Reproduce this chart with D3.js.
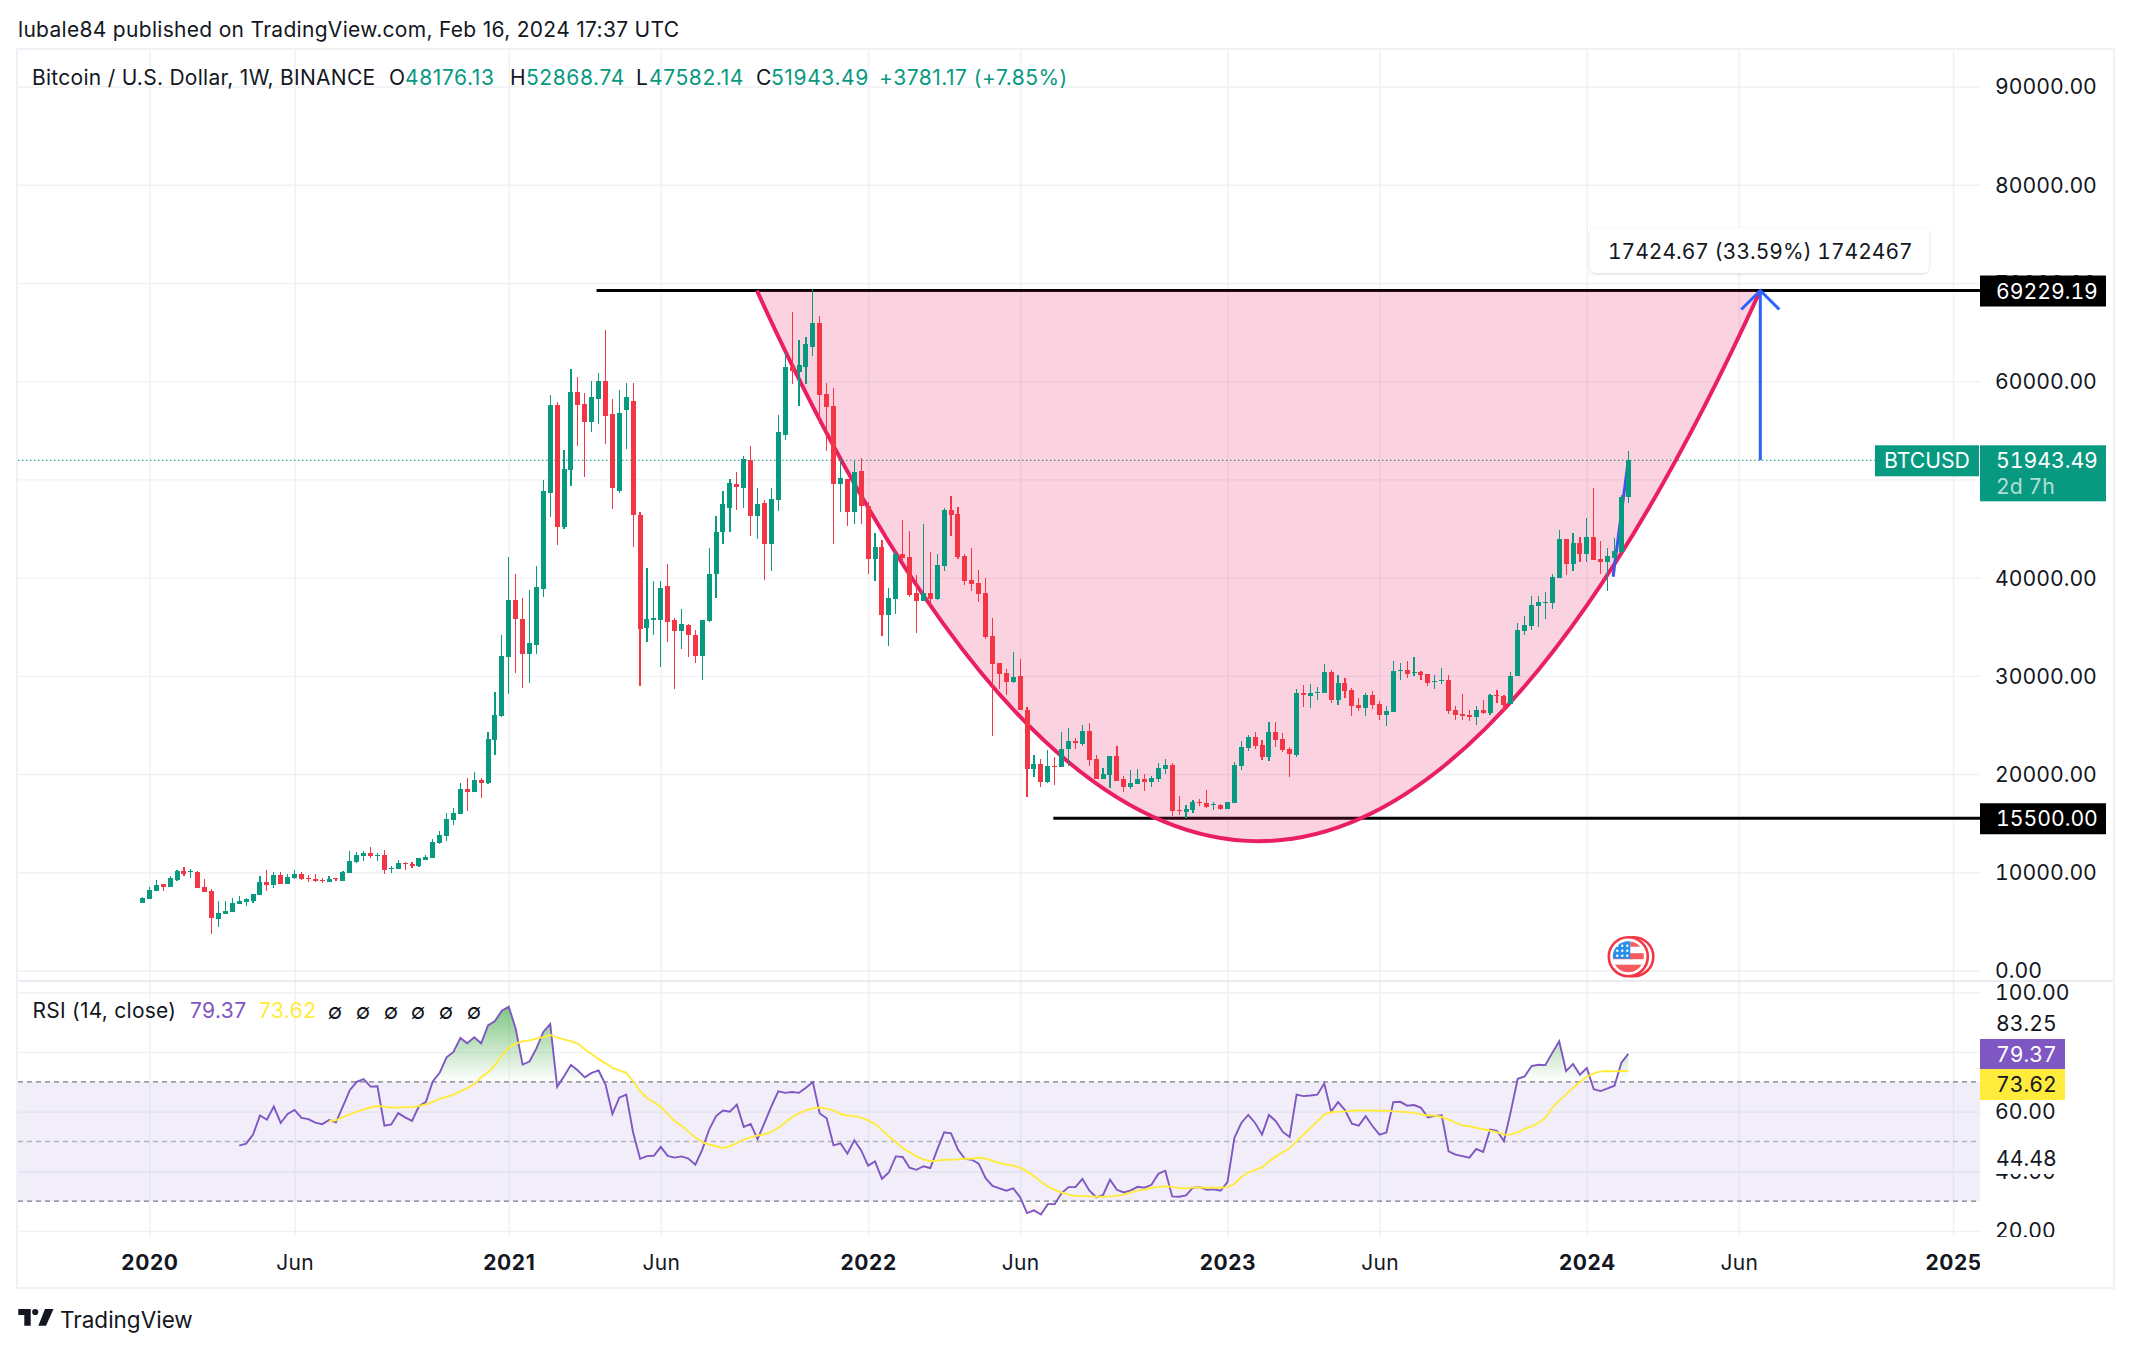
<!DOCTYPE html>
<html>
<head>
<meta charset="utf-8">
<title>BTCUSD 1W</title>
<script src="https://cdn.jsdelivr.net/npm/d3@7"></script>
<style>
  html, body { margin: 0; padding: 0; background: #fff; }
  svg { display: block; }
  text { font-family: Inter, "Noto Sans", sans-serif; }
  .tabular text, text.tabular { font-variant-numeric: tabular-nums; }
</style>
</head>
<body>
<div id="chart"></div>
<script>
// Weekly candles, one entry per bar
var opens = [
  6870,7300,8112,8756,8498,9185,10129,10000,10043,8498,
  8112,5238,5753,5967,6782,6997,7083,7683,9013,8713,
  9743,8842,9442,9828,9442,9314,9228,9013,9442,9142,
  9957,11030,11673,11973,11716,11759,10343,10343,10944,10858,
  10644,11287,11459,13003,13732,15363,15963,18494,18194,19438,
  19138,23514,25959,31965,37756,35826,32265,33166,38872,48653,
  57533,45135,50927,58863,57662,55817,58134,59978,56633,48868,
  57018,57962,46336,34890,35705,35705,39187,35705,34594,35186,
  34186,32038,35594,40409,44669,47113,49558,49076,52002,46298,
  47632,43409,47928,54558,61485,60892,61485,63522,65966,58744,
  57522,49484,50077,46632,50891,47336,41928,43150,36224,37853,
  42446,42113,38446,37631,38446,37853,41224,46928,46520,42224,
  39779,39483,38446,34075,31334,30297,29408,30001,26556,20519,
  21037,19222,20852,20741,22556,23371,23094,24420,21564,19524,
  19932,21870,19524,18708,19014,19524,19218,19524,20544,20952,
  16362,16158,16362,17178,17076,16838,16872,16464,17076,20850,
  22686,23808,22992,21768,24318,23604,22584,21972,28296,27990,
  28330,28296,30438,27582,29316,28602,27072,26766,28092,27174,
  26052,26358,30540,30642,30336,30438,30234,29418,29520,29622,
  26562,26154,26052,25848,26562,26256,28092,27990,27174,29936,
  34526,35036,37076,37416,37382,39932,43910,41360,43502,42380,
  44114,41870,41564,41972,42584,48176.13
];
var closes = [
  7380,8198,8713,8498,9442,10129,9786,10086,8413,8027,
  5367,5882,6053,6868,7083,7297,7812,9013,8713,9743,
  8842,9528,9828,9314,9314,9142,9142,9314,9314,10043,
  11158,11759,11973,11673,11802,10257,10472,10944,10858,10644,
  11459,11587,13089,13818,15448,16049,18494,18194,19438,19138,
  23599,26045,32051,37756,35740,32265,33295,39000,48782,57533,
  45135,51012,58863,57533,55817,58348,59978,56504,49168,56719,
  58348,46422,34753,35816,35927,38964,35520,34594,35298,34186,
  32038,35705,40409,44595,47521,49669,49261,52113,46298,47447,
  43409,48039,54781,61485,61003,61596,63744,65966,58633,57411,
  49484,50188,46632,50780,47299,41928,43150,36224,37964,42446,
  42002,38261,37631,38446,37853,41298,46928,46409,42113,39668,
  39372,38372,33964,31223,30223,29408,29890,26556,20519,21037,
  19222,20852,20778,22556,23371,23111,24420,21462,19524,20034,
  21870,19320,18708,19116,19524,19218,19626,20646,20952,16260,
  16260,16464,17178,17076,16668,16940,16464,17178,20952,22788,
  23808,22890,21768,24318,23502,22482,22074,28296,28092,28296,
  28398,30438,27582,29316,28500,26970,26766,28092,27072,26052,
  26460,30540,30642,30234,30438,30132,29316,29520,29622,26460,
  26052,25950,25848,26562,26256,28092,27990,27072,30030,34628,
  35138,37178,37484,37484,40034,43910,41360,43502,42380,44114,
  41768,41564,42176,42686,48194,51943.49
];
var highs = [
  7510,8498,9228,8842,9657,10257,10558,10343,10100,9314,
  8327,7083,7083,7383,7598,7383,7812,9657,10257,10043,
  10043,9828,10257,10043,9743,9828,9442,9657,9442,10129,
  12188,12102,12188,12574,11973,12274,10644,11287,11073,11073,
  11459,11759,13389,14204,16049,16564,19138,19610,20253,19567,
  24329,28404,34196,42132,40330,37971,38700,41145,49983,58563,
  57834,52943,61223,60408,58778,59978,60794,65170,58134,59078,
  59764,59764,46722,41002,39668,39668,41372,35927,36816,35298,
  34705,35705,43039,46298,48854,50076,50706,52335,53447,49150,
  47854,49150,56596,62929,67078,64152,64448,69337,66670,59855,
  59336,52187,50077,52002,52187,47743,44520,43780,38964,42743,
  45891,44780,40298,45410,42632,42446,47039,48261,47224,42409,
  43039,40816,39965,35927,31334,30705,32446,31742,26815,21963,
  21556,22482,21741,24297,24704,23704,25032,25236,21972,20646,
  21870,22890,19830,20442,20544,20034,19830,21156,21564,21156,
  17790,16872,17382,17484,18402,17178,16974,17178,21258,23400,
  24012,24318,23502,25338,25338,24216,22788,28704,29112,29214,
  28908,31254,30642,30132,29826,28806,27786,28296,28500,27480,
  26970,31560,31356,31560,31968,30540,30234,30132,30846,30132,
  26970,28194,26562,26970,27582,28194,28602,28092,30438,35342,
  36056,38096,38096,38504,40340,44828,43910,44522,44114,46052,
  49112,43706,42992,44012,48398,52868.74
];
var lows = [
  6870,7300,8112,8112,8498,9099,9657,9442,8413,8027,
  3737,4423,5753,5967,6782,6568,6868,7683,8112,8370,
  8842,8842,9314,9228,8970,8970,8928,9013,9142,9142,
  9957,10944,11158,11459,11158,9828,9957,10343,10257,10472,
  10558,11287,11459,12917,13218,14848,15963,16263,18194,17593,
  19009,21969,25830,28104,30335,28790,29305,32265,38057,46122,
  43291,44921,49296,53372,50283,54873,55688,53587,46937,48653,
  53072,43162,28919,33483,34186,30927,33483,28667,32742,31927,
  31334,29593,35446,37964,43446,44669,46928,47039,44187,43965,
  39779,40705,46817,54040,59670,57522,59670,62522,55632,52929,
  43446,46706,45299,45447,45447,40409,39668,34075,33075,36335,
  41743,38039,34372,37631,37224,37742,40631,44261,41928,39261,
  38668,37557,33779,23889,28667,28075,29297,26556,17704,19704,
  18704,19111,18889,20741,20815,22593,22822,20850,19524,19524,
  18606,19320,18198,18504,19014,18300,18708,19218,20034,15750,
  15852,15546,16056,16770,16566,16362,16362,16464,17076,20442,
  22380,22584,21462,21360,22788,22278,19728,21768,26868,26766,
  27582,28296,27276,27072,27786,25950,26460,25950,26664,25542,
  24930,26358,29622,29826,30030,29622,29010,28704,29214,26154,
  25542,25542,25440,25032,26154,26052,27276,26562,27174,29936,
  34118,34628,34934,35750,36770,39932,40238,40646,41564,41564,
  41768,40340,38606,41870,42380,47582.14
];

// RSI starts at bar 14, its moving average at bar 27
var rsiStart = 14;
var rsiValues = [
  48.6,49.3,52.3,58.7,57.3,61.7,56.2,59.2,60.6,57.9,57.5,56.3,55.8,57.2,56.4,61.8,
  67.2,70,70.9,68.4,68.5,55.3,55.7,59.5,58.1,56.9,61.8,63.2,70.1,73,78.2,80,
  84.7,82.9,84.9,82.9,88.9,90.4,93.8,95.2,87.8,75.8,76.8,81.2,86.7,89.4,68.3,71.9,
  75.7,73.8,71.5,73,73.8,69.1,59.2,64.7,65.7,52.9,44.2,45.1,45.2,48.2,45.2,44.6,
  45,44.3,42.2,47.3,54,58.5,60.4,60,62.4,54.9,55.9,50.8,56.2,61.8,66.8,66.3,
  66.6,66.3,68,69.9,59.4,57.8,48.7,49.4,45.9,50.4,47,41.9,43.3,37.5,39.6,45,
  44.8,41.2,40.5,41.7,41.1,47.3,53.1,52.7,47.3,44.2,43.9,42.6,37.7,35.1,34.3,33.5,
  34.3,31.3,26,26.9,25.5,29,29,32.7,34.7,34.7,37.5,33.6,31.3,32.1,37.2,33.8,
  32.9,33.6,34.8,34.5,35.5,39.2,40.2,31.6,31.5,31.9,34.5,34.7,33.8,34,33.5,36.4,
  51.2,56.2,58.9,56.2,52.3,58.9,56.8,53.2,51.5,65.7,65.2,65.4,65.7,69.4,60,63.2,
  60.5,56,55.3,58.5,55.1,52.3,53,63.2,63.3,62,62.2,61.3,58.1,58.6,58.8,46.7,
  45.6,45.1,44.6,47.5,46.5,54,53.6,50.1,60.1,71,71.8,75.3,75.7,75.6,79.7,83.6,
  73.6,76,72.4,74.6,67.5,66.9,67.8,68.7,76.4,79.37
];
var maStart = 27;
var rsiMaValues = [
  56.8,57.1,58.2,59.1,60,60.7,61.4,61.9,61.7,61.4,61.4,61.5,61.5,61.9,62.4,63.3,
  64.3,65,65.7,66.8,67.9,69.2,71.5,73.2,75.5,78.9,81.4,82.8,83.6,83.9,84.5,85,
  85.7,84.9,84.2,83.6,82.8,80.9,79.3,77.6,76.2,74.7,73.8,73,70.2,66.9,64.5,63.2,
  61.6,59.2,56.9,55.3,53.3,51.3,49.8,49,48.4,47.8,48.4,49.5,50.7,51.4,52,52.4,
  53.2,54.6,56.4,58.2,59.4,60.4,61.1,61.4,61,60.4,59.2,58.7,58.5,58,57.1,55.9,
  53.8,51.7,49.8,47.8,46.4,45,44,43.4,43.6,43.9,43.9,44,44.2,44.2,44.6,44.2,
  43.6,42.8,42.3,41.9,41.2,39.9,38.4,36.6,34.9,33.8,32.9,32.2,31.8,31.7,31.6,31.5,
  31.5,31.6,31.8,32.2,32.9,33.6,33.9,34.5,34.8,35,34.8,34.4,34.3,34.6,34.6,34.5,
  34.5,34.5,34.7,35.8,38.1,39.6,40.5,41.3,43.3,45,46.4,47.8,50.1,52.3,54.5,56.8,
  59,59.8,60,60.1,60.3,60.4,60.4,60.3,60.3,60.4,60.1,60,59.8,59.6,59.1,58.7,
  58.7,58.2,57.3,56.3,55.4,55.1,54.6,54.1,53.6,53.1,52.3,52.3,53.1,54.2,55.1,56.2,
  57.9,61.3,63.8,65.8,68,70,71.7,72.8,73.5,73.6,73.5,73.6,73.62
];

// Axis ticks
var priceTicks = [0,10000,20000,30000,40000,50000,60000,70000,80000,90000];
var rsiTicks = [20,40,60,80,100];
var timeTicks = [1,22,53,75,105,127,157,179,209,231,262];
var timeLabels = ["2020","Jun","2021","Jun","2022","Jun","2023","Jun","2024","Jun","2025"];

// Drawings on the chart, as [bar, price]
var topLevel = 69229.19;
var bottomLevel = 15500;
var lastPrice = 51943.49;
var topLineStart = 65.7;
var bottomLineStart = 131.8;
var curveStart = [88.9, topLevel];
var curveControl = [161.5, -42900];
var curveEnd = [234.1, topLevel];
var trendStart = [212.8, 40090];
var trendEnd = [215, lastPrice];
var arrowBar = 234.1;

var svgWidth = 2131;
var svgHeight = 1350;

var frame = { left: 18, right: 2113, top: 50, bottom: 1287 };
var plotRight = 1980;
var paneDivider = 981;
var rsiBottom = 1237;
var fontSize = 21;
var axisFontSize = 21.2;

var green = "#089981";
var red = "#f23645";
var purple = "#7e57c2";
var yellow = "#ffeb3b";
var blue = "#2962ff";
var ink = "#131722";
var gridColor = "#f0f1f5";

var svg = d3.select("#chart")
  .append("svg")
  .attr("width", svgWidth)
  .attr("height", svgHeight);

var defs = svg.append("defs");

var xScale = d3.scaleLinear().domain([0, 215]).range([142.5, 1628.3]);
var yScale = d3.scaleLinear().domain([0, 90000]).range([970.5, 86.5]);
var rsiScale = d3.scaleLinear().domain([20, 100]).range([1231, 992.3]);

function addClip(id, x, y, w, h) {
  defs.append("clipPath").attr("id", id)
    .append("rect").attr("x", x).attr("y", y).attr("width", w).attr("height", h);
}
addClip("mainClip", frame.left, frame.top, plotRight - frame.left, paneDivider - frame.top);
addClip("rsiAxisClip", plotRight, paneDivider + 1, frame.right - plotRight, rsiBottom - paneDivider - 1);
addClip("timeClip", frame.left, rsiBottom, plotRight - frame.left, 50);
addClip("overClip", frame.left, paneDivider, plotRight - frame.left, rsiScale(70) - paneDivider);
addClip("underClip", frame.left, rsiScale(30), plotRight - frame.left, rsiBottom - rsiScale(30));

// Outer frame
svg.append("rect")
  .attr("x", frame.left - 1).attr("y", frame.top - 1)
  .attr("width", frame.right - frame.left + 2).attr("height", frame.bottom - frame.top + 2)
  .attr("fill", "none").attr("stroke", "#f0f1f7").attr("stroke-width", 2);

// Grid, both directions, taken from the axes
var xGrid = svg.append("g")
  .attr("transform", `translate(0, ${frame.top})`)
  .call(d3.axisBottom(xScale).tickValues(timeTicks).tickSize(rsiBottom - frame.top).tickFormat(""));
var yGrid = svg.append("g")
  .attr("transform", `translate(${plotRight}, 0)`)
  .call(d3.axisLeft(yScale).tickValues(priceTicks).tickSize(plotRight - frame.left).tickFormat(""));
var rsiGrid = svg.append("g")
  .attr("transform", `translate(${plotRight}, 0)`)
  .call(d3.axisLeft(rsiScale).tickValues(rsiTicks).tickSize(plotRight - frame.left).tickFormat(""));
[xGrid, yGrid, rsiGrid].forEach(function(g) {
  g.select(".domain").remove();
  g.selectAll("line").attr("stroke", gridColor).attr("stroke-width", 1.4);
});

// Pane divider
svg.append("line")
  .attr("x1", frame.left).attr("x2", frame.right)
  .attr("y1", paneDivider).attr("y2", paneDivider)
  .attr("stroke", "#e4e5ee").attr("stroke-width", 1.6);

// Main pane
var mainPane = svg.append("g").attr("clip-path", "url(#mainClip)");

mainPane.append("line")
  .attr("x1", frame.left).attr("x2", 1875)
  .attr("y1", yScale(lastPrice)).attr("y2", yScale(lastPrice))
  .attr("stroke", green).attr("stroke-width", 1).attr("stroke-dasharray", "1.5 2.5");

// Horizontal levels go under the pink fill
[[topLineStart, topLevel], [bottomLineStart, bottomLevel]].forEach(function(level) {
  mainPane.append("line")
    .attr("x1", xScale(level[0])).attr("x2", plotRight)
    .attr("y1", yScale(level[1])).attr("y2", yScale(level[1]))
    .attr("stroke", "#000").attr("stroke-width", 3);
});

// Cup curve
var cupPath = d3.path();
cupPath.moveTo(xScale(curveStart[0]), yScale(curveStart[1]));
cupPath.quadraticCurveTo(xScale(curveControl[0]), yScale(curveControl[1]), xScale(curveEnd[0]), yScale(curveEnd[1]));
mainPane.append("path")
  .attr("d", cupPath.toString())
  .attr("fill", "#e91e63").attr("fill-opacity", 0.2)
  .attr("stroke", "#e91e63").attr("stroke-width", 4);

// Trend line behind the last candles
mainPane.append("line")
  .attr("x1", xScale(trendStart[0])).attr("y1", yScale(trendStart[1]))
  .attr("x2", xScale(trendEnd[0])).attr("y2", yScale(trendEnd[1]))
  .attr("stroke", "#3f55e6").attr("stroke-width", 3);

// Candles
var candles = mainPane.append("g")
  .selectAll("g")
  .data(d3.range(opens.length))
  .enter()
  .append("g")
  .attr("fill", i => closes[i] >= opens[i] ? green : red)
  .attr("shape-rendering", "crispEdges");

candles.append("rect")
  .attr("x", i => xScale(i) - 0.6)
  .attr("width", 1.2)
  .attr("y", i => yScale(highs[i]))
  .attr("height", i => yScale(lows[i]) - yScale(highs[i]));

candles.append("rect")
  .attr("x", i => xScale(i) - 2.5)
  .attr("width", 5)
  .attr("y", i => yScale(Math.max(opens[i], closes[i])))
  .attr("height", i => Math.max(1, Math.abs(yScale(opens[i]) - yScale(closes[i]))));

// Projection arrow
var arrowX = xScale(arrowBar);
var arrowPath = d3.path();
arrowPath.moveTo(arrowX, yScale(lastPrice));
arrowPath.lineTo(arrowX, yScale(topLevel));
arrowPath.moveTo(arrowX - 19, yScale(topLevel) + 19);
arrowPath.lineTo(arrowX, yScale(topLevel));
arrowPath.lineTo(arrowX + 19, yScale(topLevel) + 19);
mainPane.append("path")
  .attr("d", arrowPath.toString())
  .attr("fill", "none").attr("stroke", blue).attr("stroke-width", 3);

// Measure label above the arrow
defs.append("filter").attr("id", "labelShadow")
  .attr("x", "-5%").attr("y", "-20%").attr("width", "110%").attr("height", "150%")
  .append("feDropShadow")
  .attr("dx", 0).attr("dy", 1).attr("stdDeviation", 1.6)
  .attr("flood-color", "#000").attr("flood-opacity", 0.16);
svg.append("rect")
  .attr("x", 1590).attr("y", 228).attr("width", 339).attr("height", 45).attr("rx", 6)
  .attr("fill", "#fff").attr("filter", "url(#labelShadow)");
svg.append("text")
  .attr("class", "tabular")
  .attr("x", 1608).attr("y", 251).attr("dy", "0.36em")
  .attr("font-size", fontSize).attr("fill", ink)
  .text("17424.67 (33.59%) 1742467");

// Event marker, two rings and a small flag
var flagX = 1628.3, flagY = 956.7;
defs.append("clipPath").attr("id", "flagClip")
  .append("circle").attr("cx", flagX).attr("cy", flagY).attr("r", 15.5);
svg.append("circle").attr("cx", flagX + 5.5).attr("cy", flagY).attr("r", 19.5)
  .attr("fill", "#fff").attr("stroke", red).attr("stroke-width", 2.6);
svg.append("circle").attr("cx", flagX).attr("cy", flagY).attr("r", 19.5)
  .attr("fill", "#fff").attr("stroke", red).attr("stroke-width", 2.6);
var flag = svg.append("g").attr("clip-path", "url(#flagClip)");
flag.append("rect").attr("x", flagX - 16).attr("y", flagY - 3.5).attr("width", 32).attr("height", 6).attr("fill", "#f55a5f");
flag.append("rect").attr("x", flagX - 16).attr("y", flagY + 8).attr("width", 32).attr("height", 8).attr("fill", "#f55a5f");
flag.append("rect").attr("x", flagX + 2).attr("y", flagY - 15).attr("width", 14).attr("height", 5).attr("fill", "#f55a5f");
flag.append("rect").attr("x", flagX - 16).attr("y", flagY - 16).attr("width", 18).attr("height", 18).attr("fill", "#2a8fe8");
d3.range(3).forEach(function(r) {
  d3.range(3).forEach(function(c) {
    flag.append("circle")
      .attr("cx", flagX - 11 + c * 5).attr("cy", flagY - 11 + r * 5)
      .attr("r", 1.2).attr("fill", "#fff");
  });
});

// RSI pane
svg.append("rect")
  .attr("x", frame.left).attr("width", plotRight - frame.left)
  .attr("y", rsiScale(70)).attr("height", rsiScale(30) - rsiScale(70))
  .attr("fill", purple).attr("fill-opacity", 0.1);

[[70, 1], [50, 0.5], [30, 1]].forEach(function(band) {
  svg.append("line")
    .attr("x1", frame.left).attr("x2", plotRight)
    .attr("y1", rsiScale(band[0])).attr("y2", rsiScale(band[0]))
    .attr("stroke", "#787b86").attr("stroke-opacity", band[1])
    .attr("stroke-width", 1.3).attr("stroke-dasharray", "5 4");
});

var overGradient = defs.append("linearGradient").attr("id", "overFill")
  .attr("gradientUnits", "userSpaceOnUse")
  .attr("x1", 0).attr("x2", 0).attr("y1", rsiScale(100)).attr("y2", rsiScale(70));
overGradient.append("stop").attr("offset", 0).attr("stop-color", "#4caf50").attr("stop-opacity", 0.85);
overGradient.append("stop").attr("offset", 1).attr("stop-color", "#4caf50").attr("stop-opacity", 0);

var underGradient = defs.append("linearGradient").attr("id", "underFill")
  .attr("gradientUnits", "userSpaceOnUse")
  .attr("x1", 0).attr("x2", 0).attr("y1", rsiScale(30)).attr("y2", rsiScale(0));
underGradient.append("stop").attr("offset", 0).attr("stop-color", "#ff5252").attr("stop-opacity", 0);
underGradient.append("stop").attr("offset", 1).attr("stop-color", "#ff5252").attr("stop-opacity", 0.85);

var overArea = d3.area()
  .x((d, i) => xScale(rsiStart + i))
  .y0(rsiScale(70))
  .y1(d => rsiScale(d));
var underArea = d3.area()
  .x((d, i) => xScale(rsiStart + i))
  .y0(rsiScale(30))
  .y1(d => rsiScale(d));

svg.append("path").datum(rsiValues).attr("d", overArea)
  .attr("fill", "url(#overFill)").attr("clip-path", "url(#overClip)");
svg.append("path").datum(rsiValues).attr("d", underArea)
  .attr("fill", "url(#underFill)").attr("clip-path", "url(#underClip)");

svg.append("path").datum(rsiValues)
  .attr("d", d3.line().x((d, i) => xScale(rsiStart + i)).y(d => rsiScale(d)))
  .attr("fill", "none").attr("stroke", purple).attr("stroke-width", 1.9);
svg.append("path").datum(rsiMaValues)
  .attr("d", d3.line().x((d, i) => xScale(maStart + i)).y(d => rsiScale(d)))
  .attr("fill", "none").attr("stroke", yellow).attr("stroke-width", 1.9);

// Price axis, the 50000 label sits fully behind the last price box
var priceAxis = svg.append("g")
  .attr("class", "tabular")
  .attr("transform", `translate(${plotRight + 15}, 0.6)`)
  .call(d3.axisRight(yScale).tickValues(priceTicks).tickSize(0).tickPadding(0).tickFormat(d3.format(".2f")));
priceAxis.select(".domain").remove();
priceAxis.selectAll(".tick").filter(d => d === 50000).remove();

// RSI axis, 20.00 gets cut by the pane edge and 80.00 sits behind the RSI box
var rsiAxisHolder = svg.append("g").attr("clip-path", "url(#rsiAxisClip)");
var rsiAxis = rsiAxisHolder.append("g")
  .attr("class", "tabular")
  .attr("transform", `translate(${plotRight + 15}, 0)`)
  .call(d3.axisRight(rsiScale).tickValues(rsiTicks).tickSize(0).tickPadding(0).tickFormat(d3.format(".2f")));
rsiAxis.select(".domain").remove();
rsiAxis.selectAll(".tick").filter(d => d === 80).remove();

// Time axis
var timeAxisHolder = svg.append("g").attr("clip-path", "url(#timeClip)");
var timeAxis = timeAxisHolder.append("g")
  .attr("transform", "translate(0, 1255.2)")
  .call(d3.axisBottom(xScale).tickValues(timeTicks).tickSize(0).tickPadding(0)
    .tickFormat((d, i) => timeLabels[i]));
timeAxis.select(".domain").remove();

[priceAxis, rsiAxis, timeAxis].forEach(function(g) {
  g.selectAll("text")
    .attr("font-size", axisFontSize)
    .attr("font-family", "Inter")
    .attr("fill", ink);
});
timeAxis.selectAll("text")
  .attr("font-size", 21)
  .attr("font-weight", (d, i) => timeLabels[i] === "Jun" ? 400 : 700)
  .attr("letter-spacing", (d, i) => timeLabels[i] === "Jun" ? 0.3 : 0.6);

// Axis value boxes
function valueBox(x, y, w, h, color) {
  svg.append("rect").attr("x", x).attr("y", y).attr("width", w).attr("height", h).attr("fill", color);
}
function boxText(x, y, label, color, opacity) {
  svg.append("text")
    .attr("class", "tabular")
    .attr("x", x).attr("y", y).attr("dy", "0.36em")
    .attr("font-size", axisFontSize)
    .attr("fill", color).attr("fill-opacity", opacity === undefined ? 1 : opacity)
    .text(label);
}

valueBox(plotRight, yScale(topLevel) - 15, 126, 31, "#000");
boxText(plotRight + 16, yScale(topLevel) + 0.5, d3.format(".2f")(topLevel), "#fff");

valueBox(plotRight, yScale(bottomLevel) - 15, 126, 31, "#000");
boxText(plotRight + 16, yScale(bottomLevel) + 0.5, d3.format(".2f")(bottomLevel), "#fff");

valueBox(1875, yScale(lastPrice) - 15, 104, 31, green);
boxText(1884, yScale(lastPrice), "BTCUSD", "#fff");
valueBox(plotRight, yScale(lastPrice) - 15, 126, 56, green);
boxText(plotRight + 16, yScale(lastPrice), d3.format(".2f")(lastPrice), "#fff");
boxText(plotRight + 16, yScale(lastPrice) + 26, "2d 7h", "#fff", 0.7);

var rsiLast = rsiValues[rsiValues.length - 1];
var maLast = rsiMaValues[rsiMaValues.length - 1];
boxText(plotRight + 16, 1023, "83.25", ink);
valueBox(plotRight, 1039, 85, 30, purple);
boxText(plotRight + 16, 1054, d3.format(".2f")(rsiLast), "#fff");
valueBox(plotRight, 1069, 85, 31, yellow);
boxText(plotRight + 16, 1084.5, d3.format(".2f")(maLast), ink);
valueBox(plotRight, 1143, 100, 31, "#fff");
boxText(plotRight + 16, rsiScale(44.48), "44.48", ink);

// Header and legends
svg.append("text")
  .attr("x", 18).attr("y", 29).attr("dy", "0.36em")
  .attr("font-size", fontSize).attr("letter-spacing", 0.3).attr("fill", ink)
  .text("lubale84 published on TradingView.com, Feb 16, 2024 17:37 UTC");

var legendItems = [
  { x: 32, text: "Bitcoin / U.S. Dollar, 1W, BINANCE", color: ink, spacing: 0.27 },
  { x: 389, text: "O", color: ink, spacing: 0 },
  { x: 405, text: "48176.13", color: green, spacing: 0.6 },
  { x: 510, text: "H", color: ink, spacing: 0 },
  { x: 526, text: "52868.74", color: green, spacing: 0.6 },
  { x: 636, text: "L", color: ink, spacing: 0 },
  { x: 649, text: "47582.14", color: green, spacing: 0.6 },
  { x: 756, text: "C", color: ink, spacing: 0 },
  { x: 771, text: "51943.49", color: green, spacing: 0.6 },
  { x: 879, text: "+3781.17 (+7.85%)", color: green, spacing: 0.5 }
];
svg.append("g").selectAll("text")
  .data(legendItems)
  .enter()
  .append("text")
  .attr("x", d => d.x).attr("y", 77).attr("dy", "0.36em")
  .attr("font-size", fontSize).attr("fill", d => d.color)
  .attr("letter-spacing", d => d.spacing)
  .text(d => d.text);

var rsiLegend = [
  { x: 32.5, text: "RSI (14, close)", color: ink, spacing: 0.25 },
  { x: 190, text: "79.37", color: purple, spacing: 0.4 },
  { x: 259, text: "73.62", color: yellow, spacing: 0.4 }
];
svg.append("g").selectAll("text")
  .data(rsiLegend)
  .enter()
  .append("text")
  .attr("x", d => d.x).attr("y", 1010.5).attr("dy", "0.36em")
  .attr("font-size", fontSize).attr("fill", d => d.color)
  .attr("letter-spacing", d => d.spacing)
  .text(d => d.text);

svg.append("g").selectAll("text")
  .data([335, 363, 391, 418, 446, 474])
  .enter()
  .append("text")
  .attr("x", d => d).attr("y", 1011).attr("dy", "0.36em")
  .attr("text-anchor", "middle")
  .attr("font-size", 21).attr("fill", ink)
  .text("\u2205");

// TradingView mark
var logo = svg.append("g").attr("fill", ink);
logo.append("path").attr("d", "M18.3 1309H30.7V1325.7H24.3V1315H18.3Z");
logo.append("circle").attr("cx", 35.2).attr("cy", 1312).attr("r", 3.1);
logo.append("path").attr("d", "M45 1309H53.5L46 1325.7H38.3Z");
svg.append("text")
  .attr("x", 60).attr("y", 1319.5).attr("dy", "0.36em")
  .attr("font-size", 22.5).attr("fill", ink)
  .text("TradingView");
</script>
</body>
</html>
